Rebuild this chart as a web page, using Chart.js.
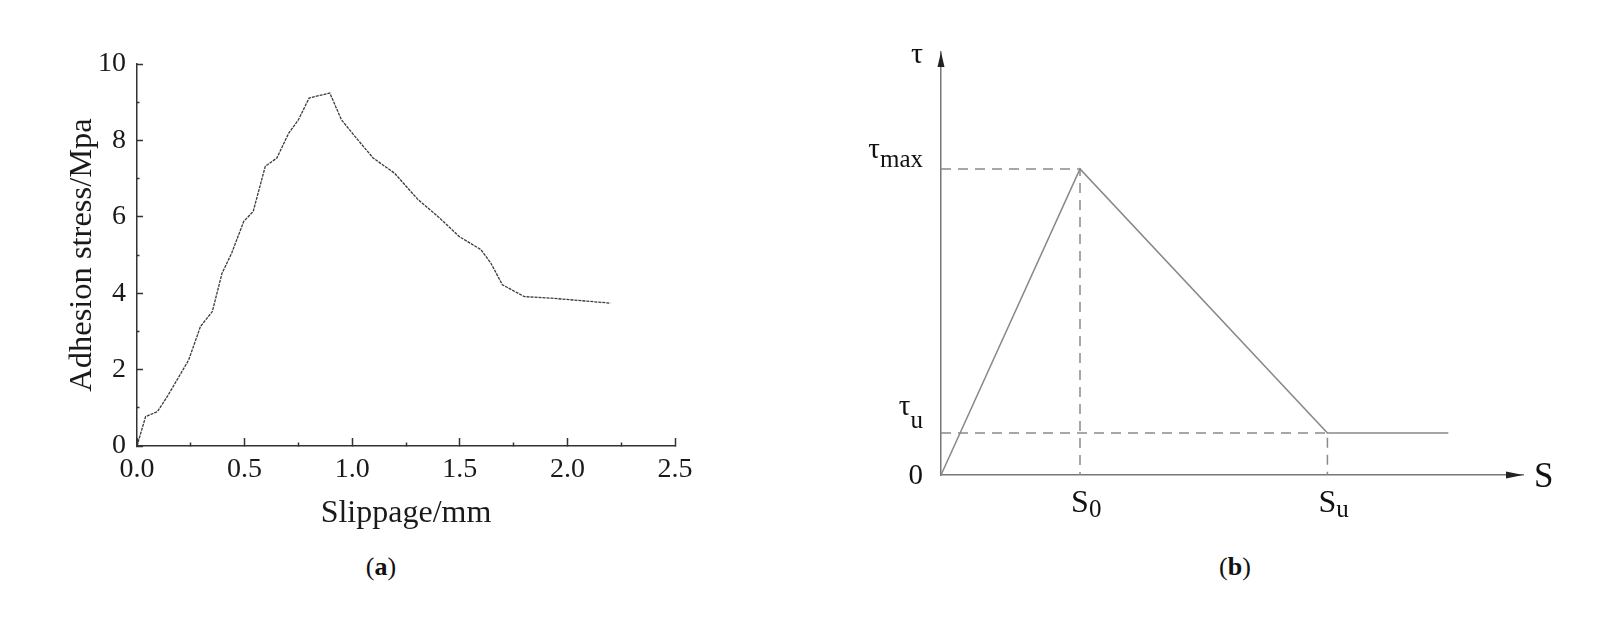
<!DOCTYPE html>
<html>
<head>
<meta charset="utf-8">
<script src="https://cdn.jsdelivr.net/npm/chart.js@4.4.1/dist/chart.umd.min.js"></script>
<style>
  html, body { margin: 0; padding: 0; background: #fff; }
  body { width: 1623px; height: 627px; position: relative; overflow: hidden; font-family: 'Liberation Serif', 'DejaVu Serif', serif; }
  .box { position: absolute; top: 0; height: 540px; }
  #wrapA { left: 0; width: 720px; }
  #wrapB { left: 780px; width: 843px; }
  .cap { position: absolute; top: 552px; font-size: 26px; line-height: 30px; color: #111; transform: translateX(-50%); }
</style>
</head>
<body>
<div class="box" id="wrapA"><canvas id="chartA"></canvas></div>
<div class="box" id="wrapB"><canvas id="chartB"></canvas></div>
<div class="cap" style="left:381px">(<b>a</b>)</div>
<div class="cap" style="left:1235px">(<b>b</b>)</div>
<script>
// (a) measured bond-slip curve
const slipMm = [0, 0.04, 0.095, 0.14, 0.186, 0.24, 0.295, 0.35, 0.395, 0.44, 0.496, 0.54, 0.596, 0.65, 0.705, 0.75, 0.8, 0.896, 0.95, 1.006, 1.097, 1.197, 1.306, 1.398, 1.498, 1.598, 1.644, 1.698, 1.8, 1.926, 2.2];
const stressMpa = [0, 0.77, 0.9, 1.29, 1.73, 2.25, 3.13, 3.52, 4.52, 5.05, 5.88, 6.14, 7.32, 7.54, 8.19, 8.54, 9.11, 9.24, 8.54, 8.15, 7.54, 7.14, 6.45, 6.01, 5.48, 5.14, 4.79, 4.22, 3.91, 3.87, 3.74];
const slipTickLabels = ['0.0', '0.5', '1.0', '1.5', '2.0', '2.5'];
const stressTickLabels = ['0', '2', '4', '6', '8', '10'];

// (b) simplified model: key points (S0, Su) and (0, tau_u, tau_max)
const modelS = [0, 1, 2.78, 3.65];
const modelTau = [0, 1, 0.137, 0.137];
const sTickValues = [1, 2.78];
const sTickBase = ['S', 'S'];
const sTickSub = ['0', 'u'];
const tauTickValues = [0, 0.137, 1];
const tauTickBase = ['0', 'τ', 'τ'];
const tauTickSub = ['', 'u', 'max'];

const serif = "'Liberation Serif', 'Times New Roman', serif";
const ink = '#1a1a1a';

const pts = (xs, ys) => xs.map((x, i) => ({ x: x, y: ys[i] }));

// ---------- chart (a) ----------
const isHalf = (v) => Math.abs(v * 2 - Math.round(v * 2)) < 1e-6;
const isEven = (v) => Math.abs(v / 2 - Math.round(v / 2)) < 1e-6;

new Chart(document.getElementById('chartA'), {
    type: 'scatter',
    data: {
        datasets: [{
            data: pts(slipMm, stressMpa),
            showLine: true,
            borderColor: '#3a3a3a',
            borderWidth: 1.3,
            borderDash: [3, 1],
            pointRadius: 0,
            tension: 0
        }]
    },
    options: {
        responsive: true,
        maintainAspectRatio: false,
        animation: false,
        layout: { padding: { top: 64, right: 45, left: 0, bottom: 0 } },
        plugins: { legend: { display: false }, tooltip: { enabled: false } },
        scales: {
            x: {
                type: 'linear', min: 0, max: 2.5,
                border: { color: '#333', width: 1.5 },
                grid: {
                    drawOnChartArea: false,
                    tickLength: -8,
                    tickColor: '#333',
                    tickWidth: 1.5,
                    tickBorderDash: (c) => (c.tick && isHalf(c.tick.value)) ? [] : [4, 100]
                },
                ticks: {
                    stepSize: 0.25, autoSkip: false, maxRotation: 0, padding: 15,
                    color: ink, font: { family: serif, size: 28 },
                    callback: (v) => isHalf(v) ? slipTickLabels[Math.round(v * 2)] : ''
                },
                title: { display: true, text: 'Slippage/mm', color: ink, font: { family: serif, size: 32 }, padding: { top: 0, bottom: 7 } },
                afterFit: (s) => { s.height = 94; }
            },
            y: {
                type: 'linear', min: 0, max: 10,
                border: { color: '#333', width: 1.5 },
                grid: {
                    drawOnChartArea: false,
                    tickLength: -6,
                    tickColor: '#333',
                    tickWidth: 1.5,
                    tickBorderDash: (c) => (c.tick && isEven(c.tick.value)) ? [] : [0, 3.5, 4, 100]
                },
                ticks: {
                    stepSize: 1, autoSkip: false, padding: 17,
                    color: ink, font: { family: serif, size: 28 },
                    callback: (v) => isEven(v) ? stressTickLabels[Math.round(v / 2)] : ''
                },
                title: { display: true, text: 'Adhesion stress/Mpa', color: ink, font: { family: serif, size: 32.5 }, padding: { top: 63, bottom: 0 } },
                afterFit: (s) => { s.width = 137; }
            }
        }
    }
});

// ---------- chart (b) ----------
function drawSubText(ctx, base, sub, x, baseY, subY, align, baseSize, subSize) {
    ctx.font = baseSize + 'px ' + serif;
    const wb = ctx.measureText(base).width;
    ctx.font = subSize + 'px ' + serif;
    const ws = sub ? ctx.measureText(sub).width : 0;
    let x0 = x;
    if (align === 'right') x0 = x - wb - ws;
    if (align === 'center') x0 = x - wb / 2;
    ctx.textAlign = 'left';
    ctx.textBaseline = 'alphabetic';
    ctx.font = baseSize + 'px ' + serif;
    ctx.fillText(base, x0, baseY);
    if (sub) {
        ctx.font = subSize + 'px ' + serif;
        ctx.fillText(sub, x0 + wb, subY);
    }
}

const tauLabelOffsets = [[9, 9], [-18, -5], [-11, -2]];

const schematicLabels = {
    id: 'schematicLabels',
    afterDraw(chart) {
        const { ctx, chartArea: a, scales: { x, y } } = chart;
        ctx.save();
        // arrow heads
        ctx.fillStyle = '#222';
        ctx.beginPath();
        ctx.moveTo(a.left, a.top);
        ctx.lineTo(a.left - 3.5, a.top + 15);
        ctx.lineTo(a.left + 3.5, a.top + 15);
        ctx.closePath();
        ctx.fill();
        ctx.beginPath();
        ctx.moveTo(a.right, a.bottom);
        ctx.lineTo(a.right - 17, a.bottom - 3.5);
        ctx.lineTo(a.right - 17, a.bottom + 3.5);
        ctx.closePath();
        ctx.fill();

        ctx.fillStyle = '#111';
        tauTickValues.forEach((v, i) => {
            const py = y.getPixelForValue(v);
            const off = tauLabelOffsets[i];
            drawSubText(ctx, tauTickBase[i], tauTickSub[i], a.left - 18, py + off[0], py + off[1], 'right', 29, 25);
        });
        sTickValues.forEach((v, i) => {
            const px = x.getPixelForValue(v);
            drawSubText(ctx, sTickBase[i], sTickSub[i], px, a.bottom + 37, a.bottom + 42, 'center', 32, 25);
        });
        drawSubText(ctx, 'τ', '', a.left - 18, a.top + 11, 0, 'right', 30, 25);
        drawSubText(ctx, 'S', '', a.right + 11, a.bottom + 12, 0, 'left', 35, 25);
        ctx.restore();
    }
};

const guideColor = '#8a8a8a';
new Chart(document.getElementById('chartB'), {
    type: 'scatter',
    data: {
        datasets: [{
            data: pts(modelS, modelTau),
            showLine: true,
            borderColor: '#888',
            borderWidth: 1.5,
            pointRadius: 0,
            tension: 0
        }, {
            data: [{ x: 0, y: modelTau[1] }, { x: modelS[1], y: modelTau[1] }, { x: modelS[1], y: 0 }],
            showLine: true,
            borderColor: guideColor,
            borderWidth: 1.5,
            borderDash: [10, 7],
            pointRadius: 0
        }, {
            data: [{ x: 0, y: modelTau[2] }, { x: modelS[2], y: modelTau[2] }, { x: modelS[2], y: 0 }],
            showLine: true,
            borderColor: guideColor,
            borderWidth: 1.5,
            borderDash: [10, 7],
            pointRadius: 0
        }]
    },
    options: {
        responsive: true,
        maintainAspectRatio: false,
        animation: false,
        layout: { padding: { top: 52, right: 100, left: 0, bottom: 0 } },
        plugins: { legend: { display: false }, tooltip: { enabled: false } },
        scales: {
            x: {
                type: 'linear', min: 0, max: 4.187,
                border: { color: '#777', width: 1.5 },
                grid: { display: false },
                ticks: { display: false },
                afterFit: (s) => { s.height = 65; }
            },
            y: {
                type: 'linear', min: 0, max: 1.382,
                border: { color: '#777', width: 1.5 },
                grid: { display: false },
                ticks: { display: false },
                afterFit: (s) => { s.width = 161; }
            }
        }
    },
    plugins: [schematicLabels]
});
</script>
</body>
</html>
